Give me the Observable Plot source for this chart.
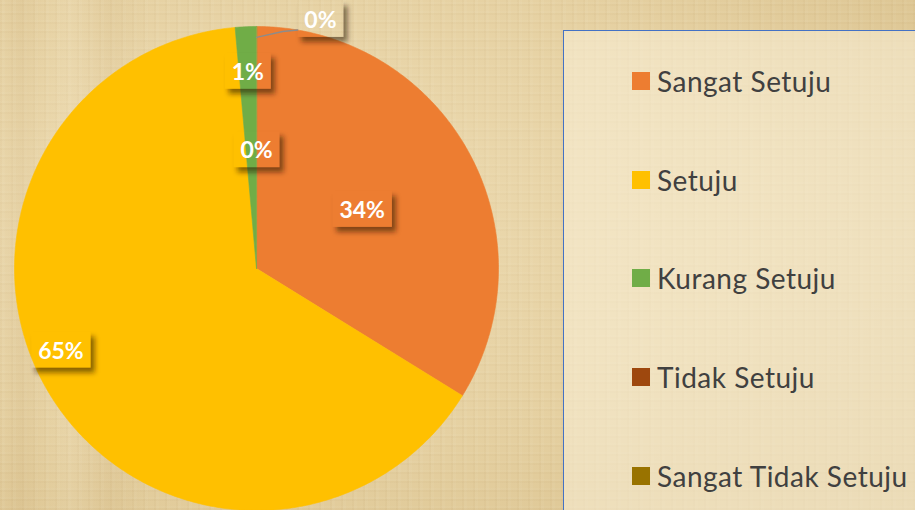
<!DOCTYPE html>
<html><head><meta charset="utf-8">
<script src="https://cdn.jsdelivr.net/npm/d3@7"></script>
<script src="https://cdn.jsdelivr.net/npm/@observablehq/plot@0.6"></script>
<style>
body{margin:0;}
#wrap{position:relative;width:915px;height:510px;overflow:hidden;
 background-color:#E3CD9C;
 background-image:
  radial-gradient(ellipse at 30% 40%, rgba(246,232,198,0.5) 0%, rgba(246,232,198,0.15) 55%, rgba(190,160,100,0.25) 100%),
  linear-gradient(90deg, rgba(170,130,70,0.0) 0px, rgba(170,130,70,0.10) 20px, rgba(170,130,70,0) 45px, rgba(255,245,220,0.12) 70px, rgba(170,130,70,0.08) 110px, rgba(170,130,70,0) 150px),
  repeating-linear-gradient(0deg, rgba(150,110,50,0.045) 0 2px, rgba(255,250,235,0.05) 2px 4px, transparent 4px 9px),
  repeating-linear-gradient(90deg, rgba(150,110,50,0.045) 0 2px, rgba(255,250,235,0.05) 2px 5px, transparent 5px 11px);}
#wrap svg{position:absolute;left:0;top:0;}
#legend{position:absolute;left:563px;top:30px;width:400px;height:520px;border:1.5px solid #4472C4;
 background:rgba(250,240,216,0.55);box-sizing:border-box;}
.item{position:absolute;left:68px;height:24px;display:flex;align-items:center;font-family:Lato,"Open Sans",sans-serif;
 font-size:28px;color:#404040;white-space:nowrap;letter-spacing:0.5px;}
.sw{width:18px;height:18px;margin-right:7px;flex:none;}
</style>
</head><body>
<div id="wrap"><div id="legend"></div></div>
<script>
// ---- data ----
const categories = ["Sangat Setuju","Setuju","Kurang Setuju","Tidak Setuju","Sangat Tidak Setuju"];
const counts = [24, 46, 1, 0, 0];
const percentLabels = ["34%","65%","1%","0%","0%"];
const colors = ["#ED7D31","#FFC000","#70AD47","#9E480E","#997300"];

// ---- layout ----
const W = 915, H = 510, cx = 256, cy = 268, R = 242;
const arcs = d3.pie().sort(null).startAngle(0).endAngle(2*Math.PI)(counts);
const polar = (a, r) => ({x: r*Math.sin(a), y: r*Math.cos(a)});

// slice outlines (center + arc points)
const slicePts = [];
arcs.forEach((a, i) => {
  if (a.endAngle - a.startAngle <= 0) return;
  slicePts.push({key: categories[i], ...polar(0, 0)});
  const n = Math.max(2, Math.ceil((a.endAngle - a.startAngle) / 0.01));
  for (let k = 0; k <= n; k++) {
    const t = a.startAngle + (a.endAngle - a.startAngle) * k / n;
    slicePts.push({key: categories[i], ...polar(t, 1)});
  }
});

// label placement (Excel "best fit") in polar terms: fixed angle (or slice mid) and radius fraction
const deg = Math.PI/180;
const placement = {
  "Sangat Setuju": {a: null, r: 0.50},
  "Setuju": {a: 247.3*deg, r: 0.876},
  "Kurang Setuju": {a: null, r: 0.815},
  "Tidak Setuju": {a: null, r: 0.49},
  "Sangat Tidak Setuju": {a: 14.4*deg, r: 1.062}
};
const labels = arcs.map((a, i) => {
  const p = placement[categories[i]];
  const ang = p.a == null ? (a.startAngle + a.endAngle)/2 : p.a;
  return {key: categories[i], text: percentLabels[i], ...polar(ang, p.r)};
});
// leader line for the outside label
const leader = [polar(0, 0.955), polar(6.3*deg, 0.985), polar(9.8*deg, 1.0)];

const plot = Plot.plot({
  width: W, height: H,
  margin: 0,
  style: {background: "transparent", overflow: "visible"},
  x: {domain: [-cx/R, (W-cx)/R], axis: null},
  y: {domain: [-(H-cy)/R, cy/R], axis: null},
  color: {domain: categories, range: colors},
  marks: [
    Plot.line(slicePts, {x: "x", y: "y", z: "key", fill: "key", stroke: "key", strokeWidth: 0.6, curve: "linear-closed"}),
    Plot.line(leader, {x: "x", y: "y", stroke: "#8C8C8C", strokeWidth: 1.5}),
    Plot.text(labels, {x: "x", y: "y", text: "text", fill: "white", fontSize: 23, fontWeight: "bold",
      fontFamily: "Lato, 'Open Sans', sans-serif", dy: 1})
  ]
});
const wrap = document.getElementById("wrap");
wrap.insertBefore(plot, document.getElementById("legend"));

// label boxes with outer shadow (shadow masked out inside the box)
(function(){
  const svg = d3.select(plot);
  const sb = plot.getBoundingClientRect();
  const defs = svg.append("defs");
  defs.append("filter").attr("id","blur").attr("x","-30%").attr("y","-30%").attr("width","160%").attr("height","160%")
    .append("feGaussianBlur").attr("stdDeviation", 2.6);
  const textG = svg.selectAll('g[aria-label="text"]').node();
  const shadowG = svg.insert("g", () => textG);
  svg.selectAll('g[aria-label="text"] text').each(function(d, i){
    const b = this.getBoundingClientRect();
    const padX = 7, h = 36;
    const bx = b.left - sb.left - padX, bw = b.width + 2*padX;
    const midY = b.top - sb.top + b.height/2;
    const by = midY - h/2;
    const m = defs.append("mask").attr("id","m"+i).attr("maskUnits","userSpaceOnUse")
      .attr("x",0).attr("y",0).attr("width",W).attr("height",H);
    m.append("rect").attr("x",0).attr("y",0).attr("width",W).attr("height",H).attr("fill","white");
    m.append("rect").attr("x",bx).attr("y",by).attr("width",bw).attr("height",h).attr("fill","black");
    shadowG.append("rect").attr("x",bx+4).attr("y",by+5).attr("width",bw).attr("height",h)
      .attr("fill","rgba(40,20,0,0.55)").attr("filter","url(#blur)").attr("mask","url(#m"+i+")");
  });
})();

// legend
const legend = document.getElementById("legend");
const rowY = [50, 149, 247, 346, 445];
categories.forEach((c, i) => {
  const it = document.createElement("div");
  it.className = "item";
  it.style.top = (rowY[i] - 12) + "px";
  it.innerHTML = `<span class="sw" style="background:${colors[i]}"></span><span>${c}</span>`;
  legend.appendChild(it);
});
</script>
</body></html>
